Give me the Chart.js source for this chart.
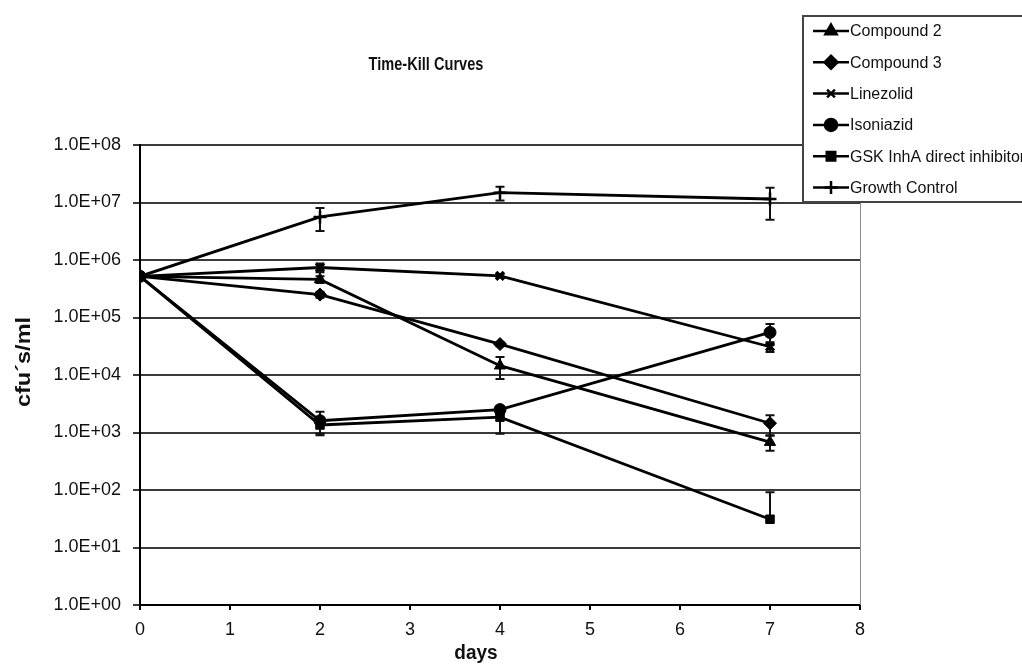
<!DOCTYPE html>
<html>
<head>
<meta charset="utf-8">
<script src="https://cdn.jsdelivr.net/npm/chart.js@4.4.0/dist/chart.umd.min.js"></script>
<style>
html,body{margin:0;padding:0;background:#fff;}
#wrap{position:relative;width:1022px;height:667px;}
canvas{display:block;}
</style>
</head>
<body>
<div id="wrap"><canvas id="c" width="1022" height="667"></canvas></div>
<script>
// ---- data ----
const days = [0, 2, 4, 7];
const seriesNames = ["Compound 2", "Compound 3", "Linezolid", "Isoniazid", "GSK InhA direct inhibitor", "Growth Control"];
const compound2 = [5.2e5, 4.6e5, 1.45e4, 6.8e2];
const compound3 = [5.2e5, 2.5e5, 3.45e4, 1.45e3];
const linezolid = [5.2e5, 7.4e5, 5.3e5, 3.1e4];
const isoniazid = [5.2e5, 1.6e3, 2.5e3, 5.5e4];
const gskInhA = [5.2e5, 1.35e3, 1.85e3, 31];
const growthControl = [5.2e5, 5.6e6, 1.48e7, 1.15e7];
const compound2Err = [0, 6e4, 6e3, 2e2];
const compound3Err = [0, 3e4, 3e3, 5.5e2];
const linezolidErr = [0, 1.3e5, 3e4, 6e3];
const isoniazidErr = [0, 7e2, 4e2, 2.2e4];
const gskInhAErr = [0, 4e2, 9e2, 60];
const growthControlErr = [0, 2.4e6, 4e6, 6.5e6];
const yTickValues = [1, 10, 100, 1e3, 1e4, 1e5, 1e6, 1e7, 1e8];
const yTickLabels = ["1.0E+00", "1.0E+01", "1.0E+02", "1.0E+03", "1.0E+04", "1.0E+05", "1.0E+06", "1.0E+07", "1.0E+08"];
const xTickValues = [0, 1, 2, 3, 4, 5, 6, 7, 8];
const chartTitle = "Time-Kill Curves";
const xTitle = "days";
const yTitle = "cfu\u00B4s/ml";

const allValues = [compound2, compound3, linezolid, isoniazid, gskInhA, growthControl];
const allErrors = [compound2Err, compound3Err, linezolidErr, isoniazidErr, gskInhAErr, growthControlErr];
const styles = [
  {pointStyle: 'triangle', radius: 6.5, bw: 1},
  {pointStyle: 'rectRot', radius: 6.5, bw: 1},
  {pointStyle: 'crossRot', radius: 5.5, bw: 3.5},
  {pointStyle: 'circle', radius: 6, bw: 1},
  {pointStyle: 'rect', radius: 6, bw: 1},
  {pointStyle: 'cross', radius: 6.5, bw: 2.5}
];

const datasets = seriesNames.map((name, i) => ({
  label: name,
  data: days.map((d, j) => ({x: d, y: allValues[i][j]})),
  errors: allErrors[i],
  borderColor: '#000',
  backgroundColor: '#000',
  borderWidth: 2.8,
  pointStyle: styles[i].pointStyle,
  pointRadius: styles[i].radius,
  pointBorderWidth: styles[i].bw,
  pointBackgroundColor: '#000',
  pointBorderColor: '#000',
  tension: 0,
  fill: false
}));

const FONT = "'Liberation Sans', Arial, Helvetica, sans-serif";

const errorBars = {
  id: 'errorBars',
  beforeDatasetsDraw(chart) {
    const ctx = chart.ctx, ys = chart.scales.y, xs = chart.scales.x;
    ctx.save();
    ctx.strokeStyle = '#111';
    ctx.lineWidth = 2;
    chart.data.datasets.forEach(ds => {
      ds.data.forEach((p, j) => {
        const e = ds.errors[j];
        if (!e) return;
        const px = xs.getPixelForValue(p.x);
        const pc = ys.getPixelForValue(p.y);
        const pt = ys.getPixelForValue(p.y + e);
        const low = p.y - e;
        const pb = low > 0 ? ys.getPixelForValue(low) : null;
        ctx.beginPath();
        ctx.moveTo(px, pt); ctx.lineTo(px, pb === null ? pc : pb);
        ctx.moveTo(px - 4.5, pt); ctx.lineTo(px + 4.5, pt);
        if (pb !== null) { ctx.moveTo(px - 4.5, pb); ctx.lineTo(px + 4.5, pb); }
        ctx.stroke();
      });
    });
    ctx.restore();
  }
};

const decorations = {
  id: 'decorations',
  afterDraw(chart) {
    const ctx = chart.ctx, ca = chart.chartArea;
    ctx.save();
    // right border of plot
    ctx.strokeStyle = '#8a8a8a';
    ctx.lineWidth = 1;
    ctx.beginPath();
    ctx.moveTo(ca.right + 0.5, ca.top); ctx.lineTo(ca.right + 0.5, ca.bottom);
    ctx.stroke();
    // chart title
    ctx.fillStyle = '#111';
    ctx.textAlign = 'center';
    ctx.textBaseline = 'middle';
    ctx.save();
    ctx.translate(426, 65);
    ctx.scale(0.81, 1);
    ctx.font = "bold 18px " + FONT;
    ctx.fillText(chartTitle, 0, 0);
    ctx.restore();
    // x title
    ctx.save();
    ctx.translate(476, 653);
    ctx.font = "bold 20px " + FONT;
    ctx.scale(0.95, 1);
    ctx.fillText(xTitle, 0, 0);
    ctx.restore();
    // y title
    ctx.save();
    ctx.translate(24, 362);
    ctx.rotate(-Math.PI / 2);
    ctx.scale(1.12, 1);
    ctx.font = "bold 21px " + FONT;
    ctx.fillText(yTitle, 0, 0);
    ctx.restore();
    // legend
    const lx = 803, ly = 16, lw = 230, lh = 186;
    ctx.fillStyle = '#fff';
    ctx.fillRect(lx, ly, lw, lh);
    ctx.strokeStyle = '#444';
    ctx.lineWidth = 2;
    ctx.strokeRect(lx, ly, lw, lh);
    ctx.font = "16px " + FONT;
    ctx.textAlign = 'left';
    ctx.textBaseline = 'middle';
    chart.data.datasets.forEach((ds, i) => {
      const y = 31 + i * 31.3;
      ctx.strokeStyle = '#000';
      ctx.lineWidth = 2.5;
      ctx.beginPath();
      ctx.moveTo(813, y); ctx.lineTo(849, y);
      ctx.stroke();
      ctx.fillStyle = '#000';
      Chart.helpers.drawPoint(ctx, {pointStyle: ds.pointStyle, radius: ds.pointRadius, rotation: 0, borderWidth: ds.pointBorderWidth}, 831, y);
      ctx.fillStyle = '#111';
      ctx.fillText(ds.label, 850, y + 1);
    });
    ctx.restore();
  }
};

new Chart(document.getElementById('c'), {
  type: 'line',
  data: {datasets},
  options: {
    responsive: false,
    devicePixelRatio: 1,
    animation: false,
    layout: {padding: {top: 145, right: 162, bottom: 0, left: 0}},
    plugins: {legend: {display: false}, title: {display: false}, tooltip: {enabled: false}},
    scales: {
      x: {
        type: 'linear',
        min: 0, max: 8,
        afterBuildTicks: s => { s.ticks = xTickValues.map(v => ({value: v})); },
        afterFit: s => { s.height = 62; },
        ticks: {color: '#111', font: {family: FONT, size: 18}, padding: 9, callback: v => String(v), maxRotation: 0, autoSkip: false},
        grid: {display: true, drawOnChartArea: false, drawTicks: true, tickLength: 5, color: '#000', lineWidth: 2},
        border: {display: true, color: '#000', width: 2}
      },
      y: {
        type: 'logarithmic',
        min: 1, max: 1e8,
        afterBuildTicks: s => { s.ticks = yTickValues.map(v => ({value: v})); },
        afterFit: s => { s.width = 140; },
        ticks: {color: '#111', font: {family: FONT, size: 18}, padding: 12, autoSkip: false,
          callback: function(v) { const k = yTickValues.indexOf(v); return k >= 0 ? yTickLabels[k] : ''; }},
        grid: {display: true, drawTicks: true, tickLength: 7, color: '#3a3a3a', lineWidth: 2},
        border: {display: true, color: '#000', width: 2}
      }
    }
  },
  plugins: [errorBars, decorations]
});
</script>
</body>
</html>
